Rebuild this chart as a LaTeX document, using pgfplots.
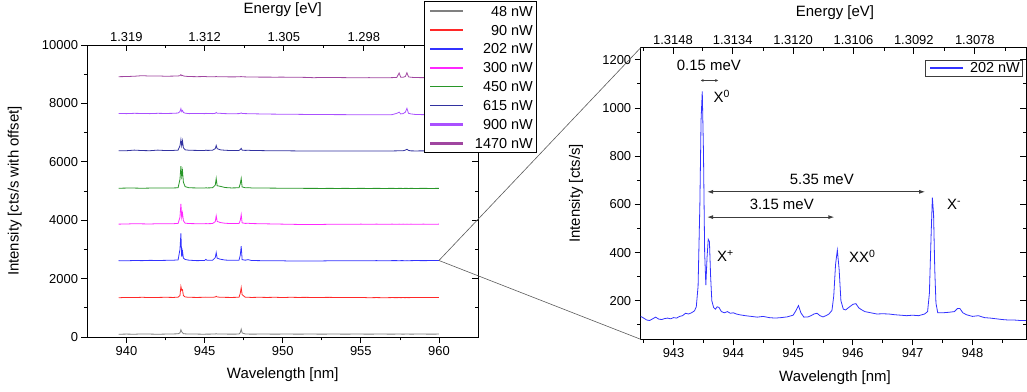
\documentclass[border=0pt]{standalone}
\usepackage{fontspec}
\setmainfont{Liberation Sans}
\usepackage{pgfplots}
\pgfplotsset{compat=1.18}
\usepackage{pgfplotstable}
\usetikzlibrary{arrows.meta}
\definecolor{colGray}{RGB}{128,128,128}
\definecolor{colRed}{RGB}{255,40,40}
\definecolor{colBlue}{RGB}{50,50,255}
\definecolor{colMag}{RGB}{255,40,255}
\definecolor{colGreen}{RGB}{40,150,40}
\definecolor{colNavy}{RGB}{50,50,160}
\definecolor{colViolet}{RGB}{170,80,255}
\definecolor{colPurple}{RGB}{160,70,160}
\definecolor{colArrow}{RGB}{60,60,60}
\definecolor{colZoom}{RGB}{90,90,90}

\pgfplotstableread{
x g r b m gr n v p
939.5  95   1345  2615  3865  5095  6375  7655  8915
940.0  100  1355  2610  3870  5100  6380  7650  8920
940.5  95   1350  2620  3880  5100  6400  7660  8930
941.0  105  1360  2615  3875  5095  6385  7655  8950
941.5  100  1350  2625  3870  5100  6380  7650  8935
942.0  95   1355  2620  3880  5105  6400  7660  8940
942.5  100  1360  2625  3875  5100  6385  7655  8930
943.0  105  1355  2630  3880  5105  6390  7660  8935
943.3  110  1365  2640  3890  5110  6400  7670  8940
943.42 140  1420  3000  4100  5400  6550  7720  8950
943.48 250  1730  3550  4560  5850  6760  7820  8985
943.53 180  1600  2750  4100  5500  6550  7720  8950
943.58 150  1620  2940  4250  5700  6720  7760  8960
943.64 115  1420  2700  3980  5300  6480  7690  8940
943.75 108  1370  2655  3900  5150  6410  7665  8930
944.0  100  1360  2630  3885  5110  6395  7650  8920
944.5  100  1355  2615  3880  5105  6390  7655  8915
945.0  95   1360  2620  3875  5100  6385  7650  8920
945.08 100  1365  2660  3885  5110  6400  7660  8918
945.15 98   1360  2625  3880  5105  6390  7655  8915
945.5  100  1360  2625  3885  5110  6395  7650  8910
945.68 105  1370  2720  3950  5200  6450  7660  8915
945.74 110  1395  2890  4150  5430  6560  7690  8920
945.8  105  1370  2700  3960  5180  6450  7665  8915
946.0  100  1362  2665  3920  5160  6410  7660  8912
946.3  100  1358  2635  3895  5120  6395  7650  8910
946.7  98   1355  2625  3885  5105  6385  7645  8908
947.2  100  1360  2630  3890  5110  6390  7650  8910
947.28 150  1500  2800  3990  5250  6420  7660  8915
947.34 270  1690  3110  4190  5430  6460  7675  8920
947.4  140  1450  2650  3910  5140  6400  7655  8912
947.6  105  1362  2630  3890  5110  6390  7650  8908
947.78 100  1360  2650  3895  5115  6395  7648  8905
948.0  98   1355  2620  3885  5105  6388  7645  8905
948.5  100  1360  2615  3880  5100  6385  7640  8900
949.0  100  1355  2610  3875  5100  6380  7635  8900
949.5  98   1360  2612  3870  5098  6378  7632  8898
950.0  100  1352  2610  3865  5095  6375  7630  8900
950.5  100  1360  2600  3860  5095  6375  7628  8895
951.0  98   1355  2605  3855  5092  6372  7625  8895
951.5  100  1358  2600  3850  5090  6370  7622  8890
952.0  100  1352  2605  3855  5090  6372  7620  8880
952.5  98   1355  2605  3855  5088  6370  7620  8890
953.0  100  1358  2610  3860  5090  6372  7618  8885
953.5  100  1352  2608  3858  5088  6370  7615  8885
954.0  98   1355  2610  3860  5090  6372  7615  8882
954.5  100  1350  2612  3862  5088  6370  7612  8880
955.0  100  1355  2610  3865  5090  6372  7610  8875
955.5  98   1345  2612  3862  5088  6370  7612  8882
956.0  100  1350  2615  3865  5090  6372  7610  8880
956.5  100  1345  2612  3862  5088  6370  7610  8880
957.0  98   1350  2615  3865  5090  6372  7615  8882
957.3  100  1348  2615  3862  5088  6375  7660  8890
957.45 100  1350  2612  3865  5090  6378  7700  9040
957.55 100  1348  2615  3862  5090  6375  7640  8900
957.7  98   1350  2615  3865  5088  6378  7650  8895
957.85 100  1348  2612  3862  5090  6400  7700  8920
957.95 100  1350  2615  3865  5090  6430  7830  9050
958.05 100  1348  2612  3862  5088  6390  7660  8910
958.2  98   1350  2615  3865  5090  6375  7640  8895
958.5  100  1352  2618  3862  5088  6372  7620  8885
959.0  100  1350  2615  3865  5090  6375  7615  8882
959.5  98   1352  2618  3862  5088  6372  7612  8880
960.0  100  1350  2620  3865  5090  6375  7610  8880
}\leftdata

\pgfplotstableread{
x y
942.45 135
942.50 128
942.55 120
942.60 118
942.65 125
942.70 132
942.75 124
942.80 122
942.85 126
942.90 128
942.95 125
943.00 130
943.05 128
943.10 135
943.15 138
943.20 148
943.25 145
943.30 150
943.35 158
943.38 175
943.41 260
943.44 600
943.46 950
943.48 1069
943.50 820
943.52 400
943.54 265
943.56 380
943.58 455
943.60 445
943.62 300
943.64 200
943.67 172
943.70 165
943.73 175
943.76 172
943.80 155
943.85 150
943.90 155
943.95 148
944.00 150
944.05 145
944.10 142
944.20 138
944.30 135
944.40 132
944.50 135
944.60 130
944.70 128
944.80 130
944.90 133
945.00 140
945.05 160
945.09 180
945.13 150
945.18 132
945.25 133
945.30 138
945.35 145
945.40 148
945.45 138
945.50 133
945.55 138
945.60 145
945.65 160
945.68 220
945.71 350
945.74 410
945.77 330
945.80 200
945.84 165
945.88 162
945.93 172
946.00 185
946.05 188
946.10 170
946.15 162
946.20 155
946.30 150
946.40 145
946.50 146
946.60 145
946.70 142
946.80 140
946.90 138
947.00 140
947.10 138
947.20 145
947.25 155
947.28 230
947.31 480
947.33 628
947.35 560
947.37 330
947.39 190
947.42 150
947.50 150
947.60 152
947.70 155
947.75 168
947.79 168
947.84 150
947.90 142
948.00 135
948.10 138
948.20 130
948.30 128
948.40 125
948.50 122
948.60 120
948.70 120
948.80 118
948.90 118
}\rightdata

\pgfplotsset{
  base/.style={scale only axis, clip=true,
    axis line style={line width=0.9bp, black},
    tick style={line width=0.8bp, black},
    major tick length=6bp, minor tick length=3.5bp,
    tick label style={font=\fontsize{13}{15}\selectfont},
    label style={font=\fontsize{15}{17}\selectfont},
    /pgf/number format/assume math mode=true,
    /pgf/number format/1000 sep={},
    scaled ticks=false,
  },
}
\newcommand{\af}{\fontsize{15}{17}\selectfont}
\newcommand{\lf}{\fontsize{14.5}{16}\selectfont}
\begin{document}
\begin{tikzpicture}
\path[use as bounding box] (0,0) rectangle (1027bp,392bp);

% ---- left: top/right ticks
\begin{axis}[base, at={(87.5bp,55bp)}, anchor=south west, width=390.5bp, height=292bp,
  xmin=937.5, xmax=962.5, ymin=0, ymax=10000,
  axis x line*=top, axis y line*=right, tick align=inside,
  xtick={939.99,945.00,950.07,955.19}, xticklabels={1.319,1.312,1.305,1.298},
  minor xtick={942.49,947.53,952.63,957.78,960.37},
  ytick={0,2000,...,10000}, minor ytick={1000,3000,...,9000}, yticklabels={},
  xlabel={Energy [eV]},
  xlabel style={at={(axis description cs:0.5,1.12)}, anchor=center}]
\end{axis}

% ---- left main
\begin{axis}[base, name=L, at={(87.5bp,55bp)}, anchor=south west, width=390.5bp, height=292bp,
  xmin=937.5, xmax=962.5, ymin=0, ymax=10000,
  xtick={940,945,...,960}, minor xtick={942.5,947.5,952.5,957.5},
  ytick={0,2000,...,10000}, minor ytick={1000,3000,...,9000},
  xtick pos=bottom, ytick pos=left, tick align=outside,
  xlabel={Wavelength [nm]}, ylabel={Intensity [cts/s with offset]},
  xlabel style={at={(axis description cs:0.5,-0.13)}, anchor=center},
  ylabel style={at={(axis description cs:-0.186,0.5)}, anchor=center}]
\addplot[colGray, line width=0.8bp]   table[x=x, y=g]  {\leftdata};
\addplot[colRed, line width=0.8bp]    table[x=x, y=r]  {\leftdata};
\addplot[colBlue, line width=0.8bp]   table[x=x, y=b]  {\leftdata};
\addplot[colMag, line width=0.8bp]    table[x=x, y=m]  {\leftdata};
\addplot[colGreen, line width=0.8bp]  table[x=x, y=gr] {\leftdata};
\addplot[colNavy, line width=0.8bp]   table[x=x, y=n]  {\leftdata};
\addplot[colViolet, line width=0.8bp] table[x=x, y=v]  {\leftdata};
\addplot[colPurple, line width=0.8bp] table[x=x, y=p]  {\leftdata};
\coordinate (zp) at (axis cs:960,2620);
\end{axis}

% ---- right: top/right ticks
\begin{axis}[base, at={(640.7bp,52.7bp)}, anchor=south west, width=385.5bp, height=291.6bp,
  xmin=942.45, xmax=948.9, ymin=40, ymax=1250,
  axis x line*=top, axis y line*=right, tick align=inside,
  xtick={942.99,943.99,945.00,946.01,947.02,948.04},
  xticklabels={1.3148,1.3134,1.3120,1.3106,1.3092,1.3078},
  minor xtick={942.49,943.49,944.50,945.51,946.52,947.53,948.55},
  ytick={200,400,...,1200}, minor ytick={100,300,...,1100}, yticklabels={},
  xlabel={Energy [eV]},
  xlabel style={at={(axis description cs:0.504,1.119)}, anchor=center}]
\end{axis}

% ---- right main
\begin{axis}[base, name=R, at={(640.7bp,52.7bp)}, anchor=south west, width=385.5bp, height=291.6bp,
  xmin=942.45, xmax=948.9, ymin=40, ymax=1250,
  xtick={943,...,948}, minor xtick={942.5,943.5,...,948.5},
  ytick={200,400,...,1200}, minor ytick={100,300,...,1100},
  xtick pos=bottom, ytick pos=left, tick align=outside,
  xlabel={Wavelength [nm]}, ylabel={Intensity [cts/s]},
  xlabel style={at={(axis description cs:0.504,-0.1327)}, anchor=center},
  ylabel style={at={(axis description cs:-0.168,0.5)}, anchor=center}]
\addplot[colBlue, line width=0.8bp] table[x=x, y=y] {\rightdata};
\coordinate (rtl) at (rel axis cs:0,1);
\coordinate (rbl) at (rel axis cs:0,0);
% annotations
\draw[colArrow, line width=0.6bp, {Latex[length=3bp,width=3bp]}-{Latex[length=3bp,width=3bp]}]
  (axis cs:943.45,1114) -- (axis cs:943.75,1114);
\node[font=\af] at (axis cs:943.59,1175) {0.15 meV};
\node[font=\af, anchor=west] at (axis cs:943.61,1047) {X\textsuperscript{0}};
\draw[colArrow, line width=0.9bp, {Latex[length=6bp,width=4bp]}-{Latex[length=6bp,width=4bp]}]
  (axis cs:943.56,652) -- (axis cs:947.21,652);
\node[font=\af] at (axis cs:945.48,703) {5.35 meV};
\draw[colArrow, line width=0.9bp, {Latex[length=6bp,width=4bp]}-{Latex[length=6bp,width=4bp]}]
  (axis cs:943.56,547) -- (axis cs:945.69,547);
\node[font=\af] at (axis cs:944.81,600) {3.15 meV};
\node[font=\af, anchor=west] at (axis cs:943.67,385) {X\textsuperscript{+}};
\node[font=\af, anchor=west] at (axis cs:945.88,385) {XX\textsuperscript{0}};
\node[font=\af, anchor=west] at (axis cs:947.52,600) {X\textsuperscript{-}};
\end{axis}

% zoom connectors
\draw[colZoom, line width=0.6bp] (zp) -- (rtl);
\draw[colZoom, line width=0.6bp] (zp) -- (rbl);

% left legend
\fill[white] (424bp,240bp) rectangle (536bp,391bp);
\draw[black, line width=0.8bp] (424bp,240bp) rectangle (536bp,391bp);
\foreach \c/\w/\t [count=\i from 0] in {colGray/1.4/48 nW, colRed/1.4/90 nW, colBlue/1.4/202 nW, colMag/1.4/300 nW, colGreen/1.4/450 nW, colNavy/1.4/615 nW, colViolet/2.2/900 nW, colPurple/2.2/1470 nW} {
  \pgfmathsetmacro\yy{391-10.2-18.9*\i}
  \draw[draw=\c, line width=\w bp] (430bp,\yy bp) -- (463bp,\yy bp);
  \node[anchor=east, font=\lf, inner sep=0pt] at (533bp,\yy bp) {\t};
}
% right legend
\fill[white] (925bp,316bp) rectangle (1022.7bp,332bp);
\draw[colArrow, line width=0.8bp] (925bp,316bp) rectangle (1022.7bp,332bp);
\draw[draw=colBlue, line width=1.4bp] (930bp,324bp) -- (963bp,324bp);
\node[anchor=east, font=\lf, inner sep=0pt] at (1020bp,324bp) {202 nW};
\end{tikzpicture}
\end{document}
